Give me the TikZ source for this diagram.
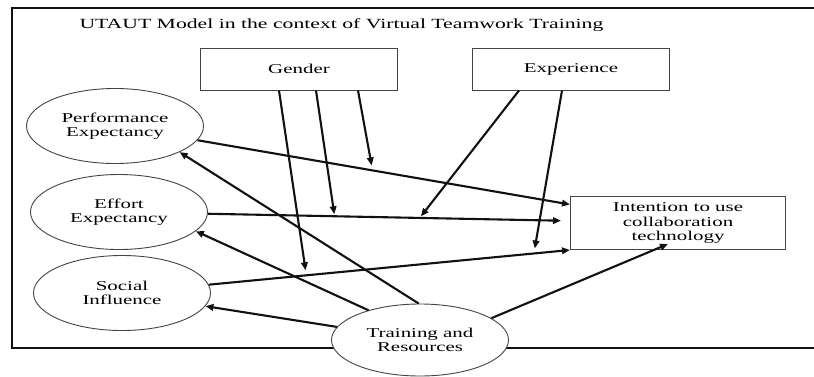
\documentclass[tikz,border=0pt]{standalone}
\usepackage{fontspec}
\setmainfont[FakeStretch=1.55]{Liberation Serif}
\usepackage{tikz}
\usetikzlibrary{shapes.geometric, arrows.meta, positioning, calc}
\definecolor{ink}{HTML}{111111}
\definecolor{edge}{HTML}{444444}
\tikzset{
  construct/.style={
    ellipse, draw=edge, line width=0.9pt, fill=white,
    minimum width=177pt, minimum height=75pt, inner sep=0pt,
    align=center, font=\fontsize{13.5}{14.5}\selectfont,
  },
  moderator/.style={
    rectangle, draw=edge, line width=1pt, fill=white,
    minimum width=197pt, minimum height=42pt, inner sep=0pt,
    align=center, font=\fontsize{13.5}{14.5}\selectfont,
  },
  outcome/.style={
    rectangle, draw=edge, line width=1pt, fill=white,
    minimum width=215pt, minimum height=53pt, inner sep=0pt,
    align=center, font=\fontsize{13.5}{14.5}\selectfont,
  },
  arrow/.style={-{Triangle[length=8pt, width=6.5pt]}, line width=2.1pt, color=ink},
  frame/.style={line width=2.2pt, color=ink},
}

\begin{document}
\begin{tikzpicture}[x=1pt, y=-1pt]
  \useasboundingbox (0,0) rectangle (814,376);

  % outer frame, open on the right
  \draw[frame] (814,8) -| (12,348) -- (814,348);

  \node[anchor=west, font=\fontsize{14}{15}\selectfont] (title) at (76,25)
    {UTAUT Model in the context of Virtual Teamwork Training};

  \node[moderator] (gen) at (299,69) {Gender};
  \node[moderator] (exp) at (571,69) {Experience};
  \node[construct] (perf) at (115,126) {Performance\\Expectancy};
  \node[construct] (eff) at (119,212) {Effort\\Expectancy};
  \node[construct] (soc) at (122,293) {Social\\Influence};
  \node[outcome] (int) at (678,223) {Intention to use\\collaboration\\technology};
  \node[construct, minimum height=72pt] (trn) at (420,340) {Training and\\Resources};

  % direct effects on intention
  \draw[arrow] (perf) -- coordinate[pos=0.47] (gPerf) (int);
  \draw[arrow, shorten >=9pt] (eff) -- coordinate[pos=0.35] (gEff) coordinate[pos=0.585] (xEff) (int);
  \draw[arrow] (soc) -- coordinate[pos=0.27] (gSoc) coordinate[pos=0.9] (xSoc) (int.south west);
  \draw[arrow] (trn.17) -- ([shift={(-10pt,6pt)}]int.south);

  % training feeds the three constructs
  \draw[arrow] (trn.92) -- (perf.-22);
  \draw[arrow] (trn.150) -- (eff.-14);
  \draw[arrow] (trn) -- (soc);

  % moderators
  \draw[arrow, shorten >=5pt] ([xshift=-20pt]gen.south) -- (gSoc);
  \draw[arrow, shorten >=2pt] ([xshift=17pt]gen.south) -- (gEff);
  \draw[arrow, shorten >=5pt] ([xshift=59pt]gen.south) -- (gPerf);
  \draw[arrow, shorten >=2pt] ([xshift=-52pt]exp.south) -- (xEff);
  \draw[arrow, shorten >=5pt] ([xshift=-9pt]exp.south) -- (xSoc);

\end{tikzpicture}
\end{document}
